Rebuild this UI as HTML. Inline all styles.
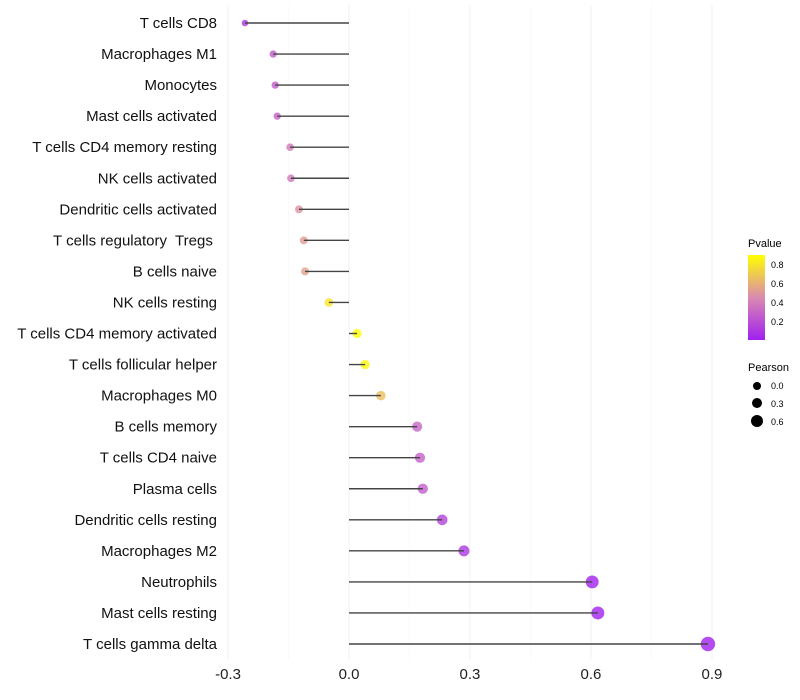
<!DOCTYPE html>
<html><head><meta charset="utf-8"><style>
body{margin:0;background:#fff;}
svg{display:block;font-family:"Liberation Sans",sans-serif;}
</style></head><body>
<svg id="chart" width="800" height="700">
<defs><linearGradient id="pg" x1="0" y1="1" x2="0" y2="0">
<stop offset="0" stop-color="#A020F0"/><stop offset="0.5" stop-color="#DA8AB0"/><stop offset="1" stop-color="#FFFF00"/>
</linearGradient></defs>
<g id="grid"></g><g id="marks"></g><g id="labels"></g>
<g>
<text x="748" y="247" font-size="11">Pvalue</text>
<rect x="748" y="255" width="17" height="85" fill="url(#pg)"/>
<text x="771" y="268" font-size="9">0.8</text>
<text x="771" y="287" font-size="9">0.6</text>
<text x="771" y="306" font-size="9">0.4</text>
<text x="771" y="325" font-size="9">0.2</text>
</g>
<g>
<text x="748" y="371" font-size="11">Pearson</text>
<circle cx="757" cy="386" r="4" fill="#000"/><text x="771" y="389" font-size="9">0.0</text>
<circle cx="757" cy="403" r="5" fill="#000"/><text x="771" y="407" font-size="9">0.3</text>
<circle cx="757" cy="421" r="6" fill="#000"/><text x="771" y="425" font-size="9">0.6</text>
</g>
</svg>
<script>
const cells=["T cells CD8","Macrophages M1","Monocytes","Mast cells activated","T cells CD4 memory resting","NK cells activated","Dendritic cells activated","T cells regulatory  Tregs ","B cells naive","NK cells resting","T cells CD4 memory activated","T cells follicular helper","Macrophages M0","B cells memory","T cells CD4 naive","Plasma cells","Dendritic cells resting","Macrophages M2","Neutrophils","Mast cells resting","T cells gamma delta"];
const pearson=[-0.258,-0.188,-0.183,-0.178,-0.146,-0.144,-0.124,-0.112,-0.109,-0.050,0.020,0.040,0.079,0.169,0.176,0.183,0.231,0.285,0.603,0.617,0.890];
const pvalue=[0.1,0.25,0.25,0.27,0.38,0.38,0.48,0.52,0.54,0.8,0.9,0.86,0.65,0.3,0.28,0.26,0.15,0.1,0.01,0.01,0.01];
const xTicks=[-0.3,0,0.3,0.6,0.9];
const xTickLabels=["-0.3","0.0","0.3","0.6","0.9"];
const NS="http://www.w3.org/2000/svg";
const x=v=>349+v*403.3;
const y=i=>23+i*31.05;
function mk(t,a,p){const e=document.createElementNS(NS,t);for(const k in a)e.setAttribute(k,a[k]);p.appendChild(e);return e;}
function hex(h){return [1,3,5].map(i=>parseInt(h.substr(i,2),16));}
const stops=[hex("#A020F0"),hex("#DA8AB0"),hex("#FFFF00")];
function col(p){let t=Math.max(0,Math.min(1,p/0.895));let s=t<0.5?0:1;let f=t<0.5?t/0.5:(t-0.5)/0.5;const a=stops[s],b=stops[s+1];return "rgb("+a.map((c,i)=>Math.round(c+(b[i]-c)*f)).join(",")+")";}
const grid=document.getElementById('grid'),marks=document.getElementById('marks'),labels=document.getElementById('labels');
[-0.15,0.15,0.45,0.75].forEach(v=>{mk('line',{x1:x(v),x2:x(v),y1:5,y2:660,stroke:'#f6f6f6','stroke-width':0.6},grid);});
xTicks.forEach((v,i)=>{const l=mk('line',{x1:x(v),x2:x(v),y1:5,y2:660,stroke:'#f0f0f0','stroke-width':1},grid);


const t=mk('text',{x:x(v),y:679,'font-size':15,'text-anchor':'middle',fill:'#222'},labels);t.textContent=xTickLabels[i];

});
cells.forEach((c,i)=>{
const t=mk('text',{x:217,y:y(i)+5,'font-size':15,'text-anchor':'end',fill:'#111','xml:space':'preserve'},labels);t.textContent=c;
t.style.whiteSpace='pre';


const r=Math.sqrt(Math.max(6,20+36*pearson[i]));
const d=mk('circle',{cx:x(pearson[i]),cy:y(i),r:r,fill:col(pvalue[i]),'fill-opacity':0.8},marks);


const l=mk('line',{x1:x(0),x2:x(pearson[i]),y1:y(i),y2:y(i),stroke:'#444','stroke-width':1.4},marks);


});
</script>
</body></html>
